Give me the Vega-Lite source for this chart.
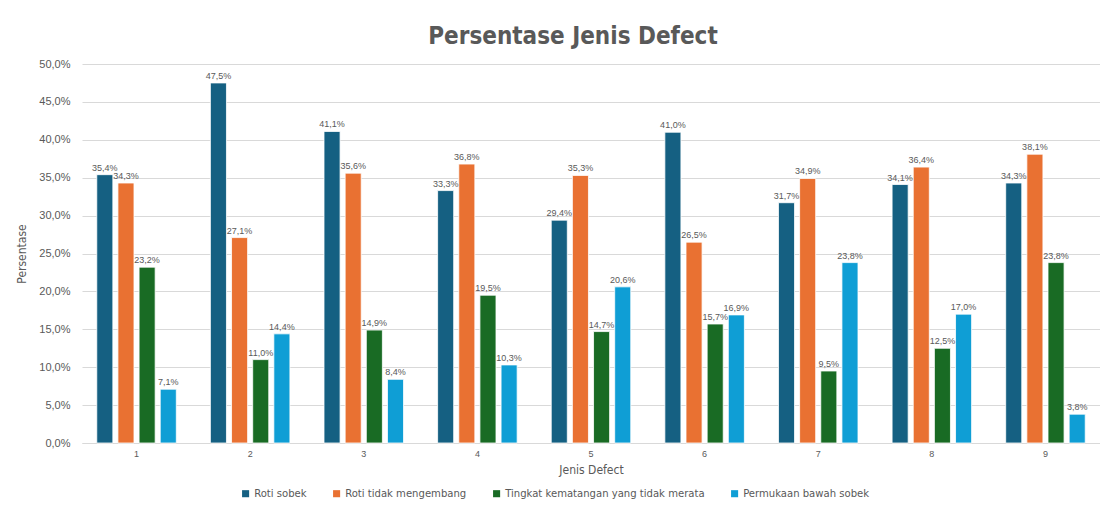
{
  "$schema": "https://vega.github.io/schema/vega-lite/v6.json",
  "autosize": {"type": "none"},
  "width": 1018,
  "height": 379,
  "padding": {"left": 82, "top": 64, "right": 0, "bottom": 63},
  "background": "white",
  "title": {
    "text": "Persentase Jenis Defect",
    "font": "DejaVu Sans Condensed, Roboto, sans-serif",
    "fontSize": 24,
    "fontWeight": "bold",
    "color": "#595959",
    "anchor": "middle",
    "frame": "group",
    "offset": 9,
    "dx": -18
  },
  "data": {
    "values": [
      {"defect": "1", "jenis": "Roti sobek", "nilai": 0.354},
      {"defect": "1", "jenis": "Roti tidak mengembang", "nilai": 0.343},
      {"defect": "1", "jenis": "Tingkat kematangan yang tidak merata", "nilai": 0.232},
      {"defect": "1", "jenis": "Permukaan bawah sobek", "nilai": 0.071},
      {"defect": "2", "jenis": "Roti sobek", "nilai": 0.475},
      {"defect": "2", "jenis": "Roti tidak mengembang", "nilai": 0.271},
      {"defect": "2", "jenis": "Tingkat kematangan yang tidak merata", "nilai": 0.110},
      {"defect": "2", "jenis": "Permukaan bawah sobek", "nilai": 0.144},
      {"defect": "3", "jenis": "Roti sobek", "nilai": 0.411},
      {"defect": "3", "jenis": "Roti tidak mengembang", "nilai": 0.356},
      {"defect": "3", "jenis": "Tingkat kematangan yang tidak merata", "nilai": 0.149},
      {"defect": "3", "jenis": "Permukaan bawah sobek", "nilai": 0.084},
      {"defect": "4", "jenis": "Roti sobek", "nilai": 0.333},
      {"defect": "4", "jenis": "Roti tidak mengembang", "nilai": 0.368},
      {"defect": "4", "jenis": "Tingkat kematangan yang tidak merata", "nilai": 0.195},
      {"defect": "4", "jenis": "Permukaan bawah sobek", "nilai": 0.103},
      {"defect": "5", "jenis": "Roti sobek", "nilai": 0.294},
      {"defect": "5", "jenis": "Roti tidak mengembang", "nilai": 0.353},
      {"defect": "5", "jenis": "Tingkat kematangan yang tidak merata", "nilai": 0.147},
      {"defect": "5", "jenis": "Permukaan bawah sobek", "nilai": 0.206},
      {"defect": "6", "jenis": "Roti sobek", "nilai": 0.410},
      {"defect": "6", "jenis": "Roti tidak mengembang", "nilai": 0.265},
      {"defect": "6", "jenis": "Tingkat kematangan yang tidak merata", "nilai": 0.157},
      {"defect": "6", "jenis": "Permukaan bawah sobek", "nilai": 0.169},
      {"defect": "7", "jenis": "Roti sobek", "nilai": 0.317},
      {"defect": "7", "jenis": "Roti tidak mengembang", "nilai": 0.349},
      {"defect": "7", "jenis": "Tingkat kematangan yang tidak merata", "nilai": 0.095},
      {"defect": "7", "jenis": "Permukaan bawah sobek", "nilai": 0.238},
      {"defect": "8", "jenis": "Roti sobek", "nilai": 0.341},
      {"defect": "8", "jenis": "Roti tidak mengembang", "nilai": 0.364},
      {"defect": "8", "jenis": "Tingkat kematangan yang tidak merata", "nilai": 0.125},
      {"defect": "8", "jenis": "Permukaan bawah sobek", "nilai": 0.170},
      {"defect": "9", "jenis": "Roti sobek", "nilai": 0.343},
      {"defect": "9", "jenis": "Roti tidak mengembang", "nilai": 0.381},
      {"defect": "9", "jenis": "Tingkat kematangan yang tidak merata", "nilai": 0.238},
      {"defect": "9", "jenis": "Permukaan bawah sobek", "nilai": 0.038}
    ]
  },
  "encoding": {
    "x": {
      "field": "defect",
      "type": "nominal",
      "scale": {"paddingInner": 0.3, "paddingOuter": 0.13},
      "axis": {
        "title": "Jenis Defect",
        "labelAngle": 0,
        "labelFont": "Liberation Sans",
        "labelFontSize": 9,
        "labelColor": "#595959",
        "labelPadding": 6,
        "titleFont": "DejaVu Sans Condensed, Roboto, sans-serif",
        "titleFontSize": 12,
        "titleFontWeight": "normal",
        "titleColor": "#595959",
        "titlePadding": 6,
        "domainColor": "#d9d9d9",
        "ticks": false,
        "grid": false
      }
    },
    "xOffset": {
      "field": "jenis",
      "type": "nominal",
      "sort": ["Roti sobek", "Roti tidak mengembang", "Tingkat kematangan yang tidak merata", "Permukaan bawah sobek"],
      "scale": {"paddingInner": 0.24, "paddingOuter": 0}
    },
    "y": {
      "field": "nilai",
      "type": "quantitative",
      "scale": {"domain": [0, 0.5]},
      "axis": {
        "title": "Persentase",
        "format": ".1%",
        "values": [0, 0.05, 0.1, 0.15, 0.2, 0.25, 0.3, 0.35, 0.4, 0.45, 0.5],
        "labelFont": "Liberation Sans",
        "labelFontSize": 11,
        "labelColor": "#595959",
        "labelPadding": 12,
        "titleFont": "DejaVu Sans Condensed, Roboto, sans-serif",
        "titleFontSize": 12,
        "titleFontWeight": "normal",
        "titleColor": "#595959",
        "titlePadding": 10,
        "domain": false,
        "ticks": false,
        "gridColor": "#d9d9d9"
      }
    },
    "color": {
      "field": "jenis",
      "type": "nominal",
      "scale": {
        "domain": ["Roti sobek", "Roti tidak mengembang", "Tingkat kematangan yang tidak merata", "Permukaan bawah sobek"],
        "range": ["#156082", "#E97132", "#196B24", "#0F9ED5"]
      },
      "legend": {
        "title": null,
        "orient": "none",
        "legendX": 158,
        "legendY": 424,
        "direction": "horizontal",
        "symbolType": "square",
        "symbolSize": 50,
        "symbolStrokeWidth": 0,
        "labelFont": "DejaVu Sans Condensed, Roboto, sans-serif",
        "labelFontSize": 11.2,
        "labelColor": "#595959",
        "labelLimit": 0,
        "columnPadding": 24,
        "labelOffset": 3
      }
    }
  },
  "layer": [
    {
      "mark": {"type": "bar", "stroke": "#ffffff", "strokeWidth": 0.8}
    },
    {
      "mark": {"type": "text", "dy": -7, "font": "Liberation Sans", "fontSize": 9},
      "encoding": {
        "text": {"field": "nilai", "type": "quantitative", "format": ".1%"},
        "color": {"value": "#595959"}
      }
    }
  ],
  "config": {
    "locale": {
      "number": {"decimal": ",", "thousands": ".", "grouping": [3], "currency": ["", " €"]}
    },
    "view": {"stroke": null}
  }
}
